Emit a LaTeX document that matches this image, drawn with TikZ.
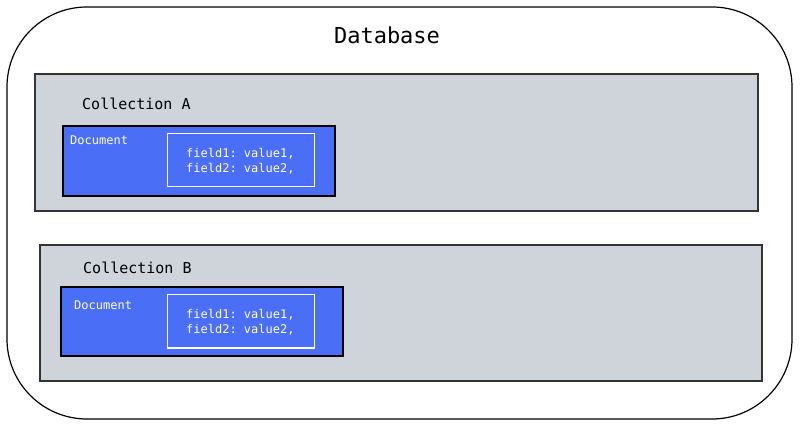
\documentclass[tikz,border=0pt]{standalone}
\usepackage{fontspec}
\setmonofont{DejaVu Sans Mono}
\definecolor{collgray}{HTML}{CFD3DA}
\definecolor{docblue}{HTML}{4A6EF5}
\begin{document}
\begin{tikzpicture}[x=1pt,y=-1pt,
  dbbox/.style={draw=black,line width=1.2pt,rounded corners=80pt},
  collbox/.style={draw=black!80,fill=collgray,line width=1.2pt},
  docbox/.style={draw=black,fill=docblue,line width=1.2pt},
  fieldbox/.style={draw=white,line width=1pt},
  lbl/.style={font=\ttfamily,inner sep=0pt},
]
\useasboundingbox (0,0) rectangle (800,427);
\draw[dbbox] (7,7) rectangle (792,419);
\node[lbl,font=\ttfamily\fontsize{22}{26}\selectfont] (dbl) at (387,35) {Database};
% Collection A
\draw[collbox] (35,74) rectangle (758,211);
\node[lbl,font=\ttfamily\fontsize{15}{18}\selectfont,anchor=west] (cal) at (82,104) {Collection A};
\draw[docbox] (63,126) rectangle (335,196);
\node[lbl,text=white,font=\ttfamily\fontsize{12}{14}\selectfont,anchor=west] (dal) at (70,140) {Document};
\draw[fieldbox] (167,134) rectangle (314,187);
\node[lbl,text=white,font=\ttfamily\fontsize{12}{15}\selectfont,align=left,anchor=west] (fa) at (186,161) {field1: value1,\\field2: value2,};
% Collection B
\draw[collbox] (40,245) rectangle (762,381);
\node[lbl,font=\ttfamily\fontsize{15}{18}\selectfont,anchor=west] (cbl) at (83,268) {Collection B};
\draw[docbox] (61,287) rectangle (343,356);
\node[lbl,text=white,font=\ttfamily\fontsize{12}{14}\selectfont,anchor=west] (dbl2) at (74,305) {Document};
\draw[fieldbox] (167,295) rectangle (314,348);
\node[lbl,text=white,font=\ttfamily\fontsize{12}{15}\selectfont,align=left,anchor=west] (fb) at (186,322) {field1: value1,\\field2: value2,};
\end{tikzpicture}
\end{document}
